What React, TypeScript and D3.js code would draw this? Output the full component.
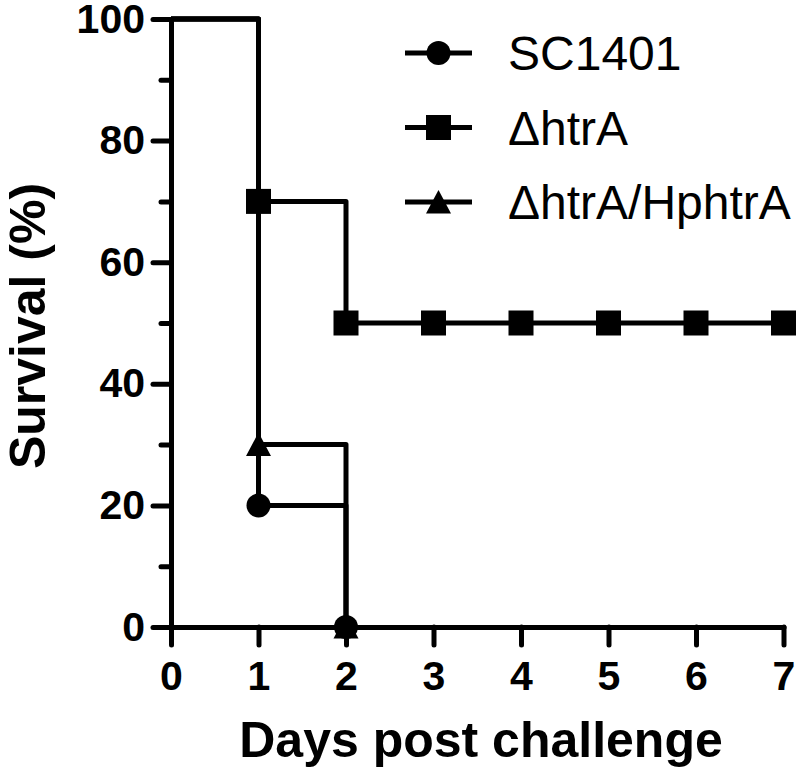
import React, { useEffect, useRef } from 'react';
import * as d3 from 'd3';

// survival (%) by day post challenge
const days = [0, 1, 2, 3, 4, 5, 6, 7];
const sc1401 = [100, 20, 0];
const htrA = [100, 70, 50, 50, 50, 50, 50, 50];
const htrAComp = [100, 30, 0];
const seriesNames = ['SC1401', '\u0394htrA', '\u0394htrA/HphtrA'];
const yTicks = [0, 20, 40, 60, 80, 100];
const yMinorTicks = [10, 30, 50, 70, 90];
const xTicks = [0, 1, 2, 3, 4, 5, 6, 7];

const FONT = 'Liberation Sans, Arial, Helvetica, sans-serif';

const App = () => {
  const ref = useRef<SVGSVGElement>(null);

  useEffect(() => {
    const svg = d3.select(ref.current);
    svg.selectAll('*').remove();

    const x = d3.scaleLinear().domain([0, 7]).range([171, 783.5]);
    const y = d3.scaleLinear().domain([0, 100]).range([627, 19]);

    const styleAxis = (g: any) => {
      g.selectAll('path, line')
        .attr('stroke', '#000')
        .attr('stroke-width', 5)
        .attr('stroke-linecap', 'round');
      g.selectAll('text')
        .attr('fill', '#000')
        .attr('font-family', FONT)
        .attr('font-weight', 'bold')
        .attr('font-size', 41);
    };

    // y axis
    const gyMinor = svg.append('g').attr('transform', 'translate(171,0)')
      .call(d3.axisLeft(y).tickValues(yMinorTicks).tickSize(10).tickFormat(() => ''));
    gyMinor.select('.domain').remove();
    styleAxis(gyMinor);
    const gy = svg.append('g').attr('transform', 'translate(171,0)')
      .call(d3.axisLeft(y).tickValues(yTicks).tickSize(18).tickSizeOuter(0).tickPadding(8).tickFormat(d3.format('d')));
    styleAxis(gy);

    // x axis
    const gx = svg.append('g').attr('transform', 'translate(0,627)')
      .call(d3.axisBottom(x).tickValues(xTicks).tickSize(18).tickSizeOuter(0).tickPadding(16).tickFormat(d3.format('d')));
    styleAxis(gx);

    svg.append('text')
      .attr('x', 481).attr('y', 757)
      .attr('text-anchor', 'middle')
      .attr('font-family', FONT).attr('font-weight', 'bold').attr('font-size', 50)
      .text('Days post challenge');

    svg.append('text')
      .attr('transform', 'translate(45,326) rotate(-90)')
      .attr('text-anchor', 'middle')
      .attr('font-family', FONT).attr('font-weight', 'bold').attr('font-size', 50)
      .text('Survival (%)');

    const series = [
      { name: seriesNames[0], values: sc1401, shape: 'circle' },
      { name: seriesNames[1], values: htrA, shape: 'square' },
      { name: seriesNames[2], values: htrAComp, shape: 'triangle' }
    ];

    const line = d3.line<number>()
      .x((d, i) => x(days[i]))
      .y(d => y(d))
      .curve(d3.curveStepAfter);

    series.forEach(s => {
      svg.append('path')
        .attr('d', line(s.values))
        .attr('fill', 'none')
        .attr('stroke', '#000')
        .attr('stroke-width', 5)
        .attr('stroke-linejoin', 'round');
    });

    const drawMarker = (g: any, shape: string, cx: number, cy: number) => {
      if (shape === 'circle') {
        g.append('circle').attr('cx', cx).attr('cy', cy).attr('r', 12).attr('fill', '#000');
      } else if (shape === 'square') {
        g.append('rect').attr('x', cx - 12.5).attr('y', cy - 12.5)
          .attr('width', 25).attr('height', 25).attr('fill', '#000');
      } else {
        g.append('path')
          .attr('d', `M${cx},${cy - 12}L${cx + 12.5},${cy + 11.5}L${cx - 12.5},${cy + 11.5}Z`)
          .attr('fill', '#000');
      }
    };

    // triangles under squares under circles
    const gMarks = svg.append('g');
    [2, 1, 0].forEach(k => {
      const s = series[k];
      s.values.forEach((v, i) => {
        if (i === 0) { return }
        drawMarker(gMarks, s.shape, x(days[i]), y(v));
      });
    });

    // legend
    const gLegend = svg.append('g');
    series.forEach((s, i) => {
      const ly = 53 + i * 74.5;
      gLegend.append('line')
        .attr('x1', 405).attr('x2', 472).attr('y1', ly).attr('y2', ly)
        .attr('stroke', '#000').attr('stroke-width', 5);
      drawMarker(gLegend, s.shape, 438.5, ly);
      gLegend.append('text')
        .attr('x', 508).attr('y', ly + 17)
        .attr('font-family', FONT).attr('font-size', 48)
        .attr('fill', '#000')
        .text(s.name);
    });
  }, []);

  return (
    <div style={{ position: 'absolute', left: 0, top: 0 }}>
      <svg ref={ref} width={800} height={771} style={{ display: 'block', background: '#fff' }} />
    </div>
  );
};

export default App;
